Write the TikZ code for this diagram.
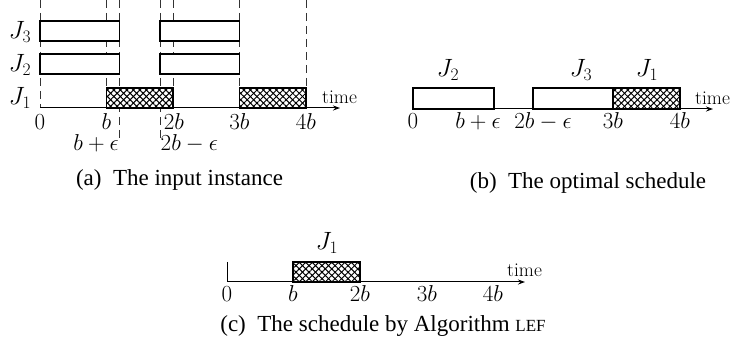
\documentclass[tikz,border=0pt]{standalone}
\usepackage{fix-cm}
\usepackage{fontspec}
\newfontfamily\capfont{Liberation Serif}
\usetikzlibrary{patterns.meta,arrows.meta}
\tikzset{
 wbox/.style={draw, line width=1.7pt, fill=white},
 hbox/.style={draw, line width=1.7pt, preaction={fill=white},
   preaction={pattern={Lines[angle=45,distance=4.6pt,line width=1pt]}},
   preaction={pattern={Lines[angle=-45,distance=4.6pt,line width=1pt]}}},
 ax/.style={line width=1pt, -{Stealth[length=7pt,width=5pt]}},
 dsh/.style={line width=1pt, dash pattern=on 8pt off 5pt, black!80},
 lbl/.style={font=\fontsize{23}{28}\selectfont, inner sep=0pt, anchor=base},
 jl/.style={font=\fontsize{25}{30}\selectfont, inner sep=0pt, anchor=base},
 tm/.style={font=\fontsize{19.5}{22}\selectfont, inner sep=0pt, anchor=base west},
 captxt/.style={font=\capfont\fontsize{23}{28}\selectfont, inner sep=0pt, anchor=base},
}
\begin{document}
\begin{tikzpicture}[x=1pt,y=-1pt]
\useasboundingbox (0,0) rectangle (736,347);
% ---------- panel (a)
\foreach \x/\yb in {40/108, 106.5/108, 119.5/142, 160/142, 173/108, 239.5/108, 306/108}
  \draw[dsh] (\x,0) -- (\x,\yb);
\draw[wbox] (40,21) rectangle (119.5,41);
\draw[wbox] (160,21) rectangle (239.5,41);
\draw[wbox] (40,54) rectangle (119.5,74);
\draw[wbox] (160,54) rectangle (239.5,74);
\draw[hbox] (106.5,88) rectangle (173,108);
\draw[hbox] (239.5,88) rectangle (306,108);
\coordinate (a0) at (40,108);
\coordinate (aE) at (340,108);
\draw[ax] (a0) -- (aE);
\node[jl] (aJ3) at (20,38.5) {$J_3$};
\node[jl] (aJ2) at (20,72) {$J_2$};
\node[jl] (aJ1) at (20,105) {$J_1$};
\node[lbl] (at0) at (40,129.5) {$0$};
\node[lbl] (at1) at (106.5,129.5) {$b$};
\node[lbl] (at2) at (174,129.5) {$2b$};
\node[lbl] (at3) at (239.5,129.5) {$3b$};
\node[lbl] (at4) at (306,129.5) {$4b$};
\node[lbl, anchor=base east] (abe) at (119,150.5) {$b+\epsilon$};
\node[lbl, anchor=base west] (a2be) at (160.5,150.5) {$2b-\epsilon$};
\node[tm] (atime) at (322,103.3) {time};
\node[captxt] (capa) at (179.5,186) {(a)\hskip0.5em The input instance};
% ---------- panel (b)
\draw[wbox] (413,88) rectangle (494,109);
\draw[wbox] (533,88) rectangle (613,109);
\draw[hbox] (613,88) rectangle (680,109);
\coordinate (b0) at (413,109);
\coordinate (bE) at (713,109);
\draw[ax] (b0) -- (bE);
\node[jl] (bJ2) at (448,77) {$J_2$};
\node[jl] (bJ3) at (581,77) {$J_3$};
\node[jl] (bJ1) at (647,77) {$J_1$};
\node[lbl] (bt0) at (413,128.3) {$0$};
\node[lbl] (bt1) at (478,128.3) {$b+\epsilon$};
\node[lbl] (bt2) at (543,128.3) {$2b-\epsilon$};
\node[lbl] (bt3) at (613,128.3) {$3b$};
\node[lbl] (bt4) at (680,128.3) {$4b$};
\node[tm] (btime) at (695,105) {time};
\node[captxt] (capb) at (588,189) {(b)\hskip0.5em The optimal schedule};
% ---------- panel (c)
\coordinate (c0) at (227,282);
\coordinate (cT) at (227,262);
\coordinate (cE) at (525,282);
\draw[line width=1pt] (cT) -- (c0);
\draw[hbox] (293,262) rectangle (360,282);
\draw[ax] (c0) -- (cE);
\node[jl] (cJ1) at (327,250) {$J_1$};
\node[lbl] (ct0) at (227,301.5) {$0$};
\node[lbl] (ct1) at (293,301.5) {$b$};
\node[lbl] (ct2) at (360,301.5) {$2b$};
\node[lbl] (ct3) at (427,301.5) {$3b$};
\node[lbl] (ct4) at (493,301.5) {$4b$};
\node[tm] (ctime) at (507,277) {time};
\node[captxt] (capc) at (383,331.7) {(c)\hskip0.5em The schedule by Algorithm {\fontsize{17}{20}\selectfont LEF}};
\end{tikzpicture}
\end{document}
